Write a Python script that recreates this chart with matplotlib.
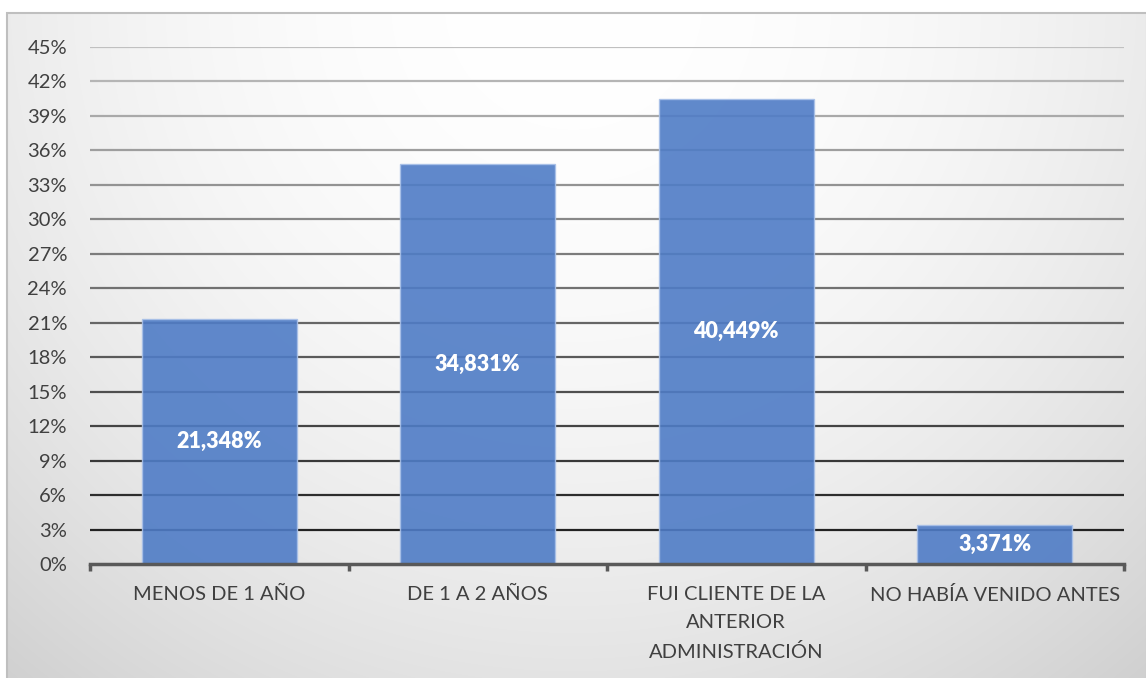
import numpy as np
import matplotlib.pyplot as plt
from matplotlib.patches import Rectangle

# survey results: time as a customer
categories = ["MENOS DE 1 AÑO", "DE 1 A 2 AÑOS",
              "FUI CLIENTE DE LA\nANTERIOR\nADMINISTRACIÓN", "NO HABÍA VENIDO ANTES"]
values = [21.348, 34.831, 40.449, 3.371]
yticks = list(range(0, 46, 3))

W, H = 1146, 678
plt.rcParams['font.family'] = ['Lato', 'DejaVu Sans']

fig = plt.figure(figsize=(W / 100, H / 100), dpi=100)

# chart area background: soft radial grey gradient with a thin border
bg = fig.add_axes([7 / W, 0, (W - 7) / W, (H - 13) / H], zorder=0)
xx, yy = np.meshgrid(np.arange(7, W), np.arange(13, H))
d2 = (xx - 573.0) ** 2 + (yy - 0.0) ** 2
shade = np.clip(255 - 6.0e-5 * d2, 200, 255) / 255.0
bg.imshow(np.dstack([shade] * 3), aspect='auto', interpolation='bilinear')
bg.set_axis_off()
fig.add_artist(Rectangle((7 / W, -0.01), (W - 6) / W, (H - 13) / H + 0.01,
                         transform=fig.transFigure, fill=False,
                         edgecolor='#bfbfbf', linewidth=1.5, zorder=1))

ax = fig.add_axes([90 / W, 1 - 564 / H, (1124 - 90) / W, (564 - 47) / H], zorder=2)
ax.patch.set_alpha(0)

x = np.arange(len(categories))

# gridlines fade from light grey at the top to near black at the bottom
top_c = np.array([0xc0, 0xc0, 0xc0]) / 255
bot_c = np.array([0x22, 0x22, 0x22]) / 255
for t in yticks[1:]:
    f = (t - 3) / (45 - 3)
    col = bot_c + (top_c - bot_c) * f
    ax.axhline(t, color=col, linewidth=1.6, zorder=1)

bars = ax.bar(x, values, width=0.6, color='#4f7cc6', alpha=0.9,
              edgecolor='#a8c0e8', linewidth=1.0, zorder=2)

for xi, v in zip(x, values):
    ax.text(xi, v / 2, f"{v:.3f}%".replace('.', ','), ha='center', va='center',
            color='white', fontsize=15.5, fontweight='heavy', zorder=3)

ax.set_xlim(-0.5, len(categories) - 0.5)
ax.set_ylim(0, 45)
ax.set_yticks(yticks)
ax.set_yticklabels([f"{t}%" for t in yticks], fontsize=14.5, color='#404040')
ax.tick_params(axis='y', length=0, pad=16.5)

ax.set_xticks(x)
ax.set_xticklabels(categories, fontsize=14.5, color='#404040', linespacing=1.8)
ax.tick_params(axis='x', length=0, pad=16)

for s in ['left', 'right', 'top']:
    ax.spines[s].set_visible(False)
ax.spines['bottom'].set_color('#595959')
ax.spines['bottom'].set_linewidth(2.5)
ax.spines['bottom'].set_zorder(4)

# category boundary ticks below the axis line
for b in np.arange(-0.5, len(categories), 1.0):
    ax.plot([b, b], [0, -0.6], color='#595959', linewidth=2.5,
            clip_on=False, zorder=4, solid_capstyle='butt')

fig.savefig("out.png", dpi=100)
